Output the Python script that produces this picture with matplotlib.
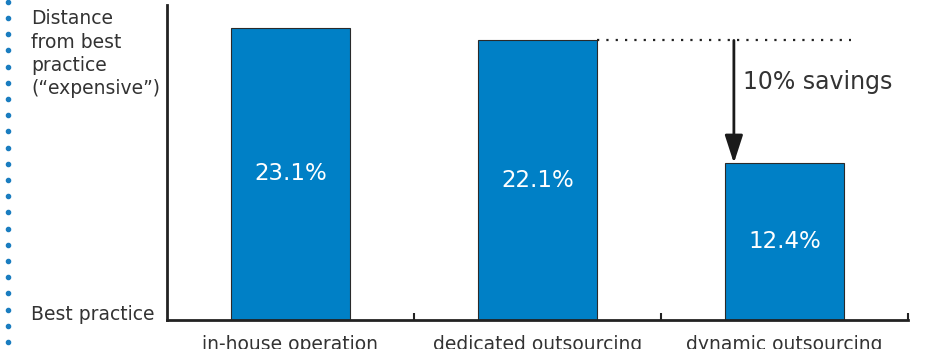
import numpy as np
import matplotlib
matplotlib.use("Agg")
import matplotlib.pyplot as plt
from matplotlib.lines import Line2D

# data
categories = ["in-house operation", "dedicated outsourcing", "dynamic outsourcing"]
values = [23.1, 22.1, 12.4]
labels = ["23.1%", "22.1%", "12.4%"]
savings_text = "10% savings"

bar_color = "#0080c6"
text_color = "#333333"

fig = plt.figure(figsize=(9.26, 3.49), dpi=100)
ax = fig.add_axes([0.1803, 0.0831, 0.8003, 0.9026])

x = np.arange(len(categories))
bars = ax.bar(x, values, width=0.48, color=bar_color, edgecolor="#2a2a2a", linewidth=0.8)

for xi, v, lab in zip(x, values, labels):
    ax.text(xi, v / 2, lab, ha="center", va="center", color="white", fontsize=16.5)

ax.set_xlim(-0.5, 2.5)
ax.set_ylim(0, 24.9)

# dotted reference line from the dedicated outsourcing bar
ax.plot([1 + 0.24, 2.27], [values[1], values[1]], linestyle=(0, (1, 3.2)), color="#222222", lw=1.6)
# savings arrow
ax.annotate("", xy=(1.795, values[2]), xytext=(1.795, values[1]),
            arrowprops=dict(arrowstyle="-|>,head_length=1.7,head_width=0.55", color="#1a1a1a", lw=2,
                            shrinkA=0, shrinkB=0))
ax.text(1.83, 18.8, savings_text, fontsize=17, color=text_color, va="center", ha="left")

# axes styling
for s in ["top", "right"]:
    ax.spines[s].set_visible(False)
for s in ["left", "bottom"]:
    ax.spines[s].set_linewidth(2)
    ax.spines[s].set_color("#222222")
ax.set_yticks([])
ax.set_xticks(x)
ax.set_xticklabels(categories, fontsize=13.5, color=text_color)
ax.tick_params(axis="x", which="major", length=0, pad=11)
ax.set_xticks([0.5, 1.5, 2.5], minor=True)
ax.tick_params(axis="x", which="minor", direction="in", length=5, width=1.5, color="#222222")

# y-axis annotations
fig.text(31 / 926, 1 - 9 / 349, "Distance\nfrom best\npractice\n(\u201cexpensive\u201d)",
         fontsize=13.5, color=text_color, va="top", ha="left", linespacing=1.3)
fig.text(31 / 926, 1 - 314 / 349, "Best practice", fontsize=13.5, color=text_color,
         va="center", ha="left")

# decorative dotted border on the left
dots_y = np.arange(0.995, 0, -16.2 / 349)
fig.add_artist(Line2D([8 / 926] * len(dots_y), dots_y, ls="none", marker="o", markersize=3,
                      color="#1a7dc0", transform=fig.transFigure))

fig.savefig("out.png", dpi=100)
